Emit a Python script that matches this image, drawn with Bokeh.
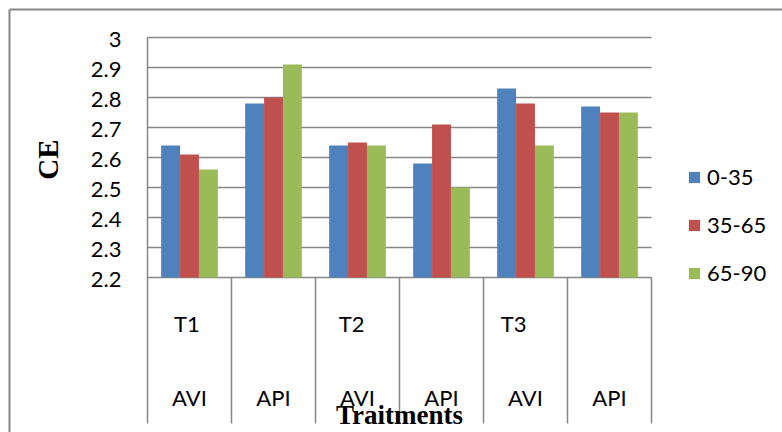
from bokeh.plotting import figure
from bokeh.models import Range1d, Legend, LegendItem, ColumnDataSource
from bokeh.core.properties import value
from bokeh.embed import file_html
from bokeh.resources import INLINE

# ---- data -------------------------------------------------------------
treatments = ["T1", "T2", "T3"]
methods = ["AVI", "API", "AVI", "API", "AVI", "API"]
depths = ["0-35", "35-65", "65-90"]
ce_0_35 = [2.64, 2.78, 2.64, 2.58, 2.83, 2.77]
ce_35_65 = [2.61, 2.80, 2.65, 2.71, 2.78, 2.75]
ce_65_90 = [2.56, 2.91, 2.64, 2.50, 2.64, 2.75]
y_ticks = [2.2, 2.3, 2.4, 2.5, 2.6, 2.7, 2.8, 2.9, 3.0]

# ---- layout -----------------------------------------------------------
W, H = 782, 432
colors = ["#4F81BD", "#C0504D", "#9BBB59"]
grey = "#868686"
font = "Lato"
tick_size = "22px"

# plot area: categories 84 px wide starting at x=147, 0.1 of CE = 30 px
cat_px = 84
left_px, top_px = 147, 37
px_per_unit = 300
base = y_ticks[0]
top_val = y_ticks[-1]


def dx(px):
    """canvas x pixel -> data x"""
    return (px - left_px) / cat_px


def dy(py):
    """canvas y pixel (from top) -> data y"""
    return top_val - (py - top_px) / px_per_unit


axis_bottom = dy(423)
bar_w = 0.225
offsets = [-bar_w, 0.0, bar_w]
treat_x = [0.47, 2.43, 4.36]   # where the treatment names sit

p = figure(width=W, height=H, output_backend="svg", toolbar_location=None,
           x_range=Range1d(dx(0), dx(W)), y_range=Range1d(dy(H), dy(0)),
           x_axis_location=None, y_axis_location=None,
           min_border=0, min_border_left=0, min_border_right=0,
           min_border_top=0, min_border_bottom=0)
p.outline_line_color = None
p.grid.visible = False
p.background_fill_color = "white"
p.border_fill_color = "white"

n = len(methods)

# outer chart border (top and left edges fall inside the window)
p.segment(x0=[dx(9), dx(9)], y0=[dy(9), dy(9)], x1=[dx(W + 5), dx(9)],
          y1=[dy(9), dy(H + 5)], line_color=grey, line_width=2)

# horizontal gridlines
p.segment(x0=[0] * len(y_ticks), x1=[n] * len(y_ticks), y0=y_ticks, y1=y_ticks,
          line_color=grey, line_width=1.5)

# value axis line and category dividers
p.segment(x0=[0], x1=[0], y0=[axis_bottom], y1=[top_val],
          line_color=grey, line_width=1.5)
div_x = list(range(1, n + 1))
p.segment(x0=div_x, x1=div_x, y0=[axis_bottom] * n, y1=[base] * n,
          line_color=grey, line_width=1.5)

# bars
series = [ce_0_35, ce_35_65, ce_65_90]
items = []
for vals, off, col, name in zip(series, offsets, colors, depths):
    src = ColumnDataSource(dict(x=[i + 0.5 + off for i in range(len(vals))],
                                top=vals, bottom=[base] * len(vals)))
    r = p.vbar(x="x", top="top", bottom="bottom", width=bar_w, source=src,
               fill_color=col, line_color=None)
    items.append(LegendItem(label=name, renderers=[r]))

# value tick labels
p.text(x=[dx(121)] * len(y_ticks), y=y_ticks, text=[f"{t:g}" for t in y_ticks],
       text_font=value(font), text_font_size=tick_size, text_color="black",
       text_align="right", text_baseline="middle", y_offset=2)

# category labels
p.text(x=[i + 0.5 for i in range(n)], y=[dy(397)] * n, text=methods,
       text_font=value(font), text_font_size=tick_size,
       text_align="center", text_baseline="middle", text_color="black")
p.text(x=treat_x, y=[dy(323)] * len(treatments), text=treatments,
       text_font=value(font), text_font_size=tick_size,
       text_align="center", text_baseline="middle", text_color="black")

# axis titles
p.text(x=[n / 2], y=[dy(414)], text=["Traitments"],
       text_font=value("Liberation Serif"), text_font_style="bold",
       text_font_size="27px", text_align="center", text_baseline="middle",
       text_color="black")
p.text(x=[dx(47)], y=[dy(159)], text=["CE"], angle=1.5708,
       text_font=value("Liberation Serif"), text_font_style="bold",
       text_font_size="29px", text_align="center", text_baseline="middle",
       text_color="black")

# legend: location is the lower-left corner, measured from the bottom
legend = Legend(items=items, location=(687, H - 286), orientation="vertical",
                glyph_width=14, glyph_height=14, label_height=24,
                label_standoff=6, spacing=21, padding=0, margin=0,
                label_text_font=font, label_text_font_size=tick_size,
                label_text_color="black", border_line_color=None,
                background_fill_alpha=0)
p.add_layout(legend, "center")

open("out.html", "w").write(file_html(p, INLINE))
